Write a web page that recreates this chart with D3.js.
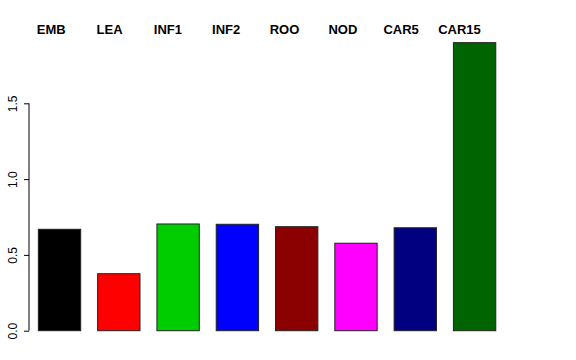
<!DOCTYPE html>
<html>
<head>
<meta charset="utf-8">
<script src="https://cdn.jsdelivr.net/npm/d3@7"></script>
<style>
  body { margin: 0; background: white; }
  svg { display: block; }
</style>
</head>
<body>
<svg id="chart" width="576" height="360"></svg>
<script>
// data
const groups = ["EMB", "LEA", "INF1", "INF2", "ROO", "NOD", "CAR5", "CAR15"];
const values = [0.669, 0.376, 0.704, 0.702, 0.686, 0.577, 0.679, 1.900];
const barColors = ["#000000", "#ff0000", "#00cd00", "#0000ff", "#8b0000", "#ff00ff", "#000080", "#006400"];
const yTicks = [0, 0.5, 1, 1.5];

const svg = d3.select("#chart");

// y scale: 0 at 330.7, 1.5 at 103.3
const y = d3.scaleLinear().domain([0, 1.5]).range([330.7, 103.3]);

// bars like R barplot, space 0.4
const pad = 0.4 / 1.4;
const x = d3.scaleBand().domain(groups).range([21.4, 512.7])
  .paddingInner(pad).paddingOuter(pad);

svg.selectAll("rect.bar")
  .data(groups)
  .enter()
  .append("rect")
  .attr("class", "bar")
  .attr("x", d => x(d))
  .attr("width", x.bandwidth())
  .attr("y", (d, i) => y(values[i]))
  .attr("height", (d, i) => y(0) - y(values[i]))
  .attr("fill", (d, i) => barColors[i])
  .attr("stroke", "#222")
  .attr("stroke-width", 1);

// y axis, labels rotated
const yAxis = d3.axisLeft(y)
  .tickValues(yTicks)
  .tickSize(5)
  .tickFormat(d3.format(".1f"));

const ax = svg.append("g")
  .attr("transform", "translate(29,0)")
  .call(yAxis);
ax.select(".domain").attr("d", `M0,${y(0)}V${y(1.5)}`).attr("stroke", "#000");
ax.selectAll(".tick line").attr("stroke", "#000");
ax.selectAll(".tick text")
  .attr("font-family", "Liberation Sans, Arial, sans-serif")
  .attr("font-size", "12px")
  .attr("fill", "#000")
  .attr("text-anchor", "middle")
  .attr("dy", null)
  .attr("x", null)
  .attr("transform", "translate(-12,0) rotate(-90)");

// group labels along the top
const lx = d3.scalePoint().domain(groups).range([51.2, 459.5]);
svg.selectAll("text.grp")
  .data(groups)
  .enter()
  .append("text")
  .attr("class", "grp")
  .attr("x", d => lx(d))
  .attr("y", 33.5)
  .attr("text-anchor", "middle")
  .attr("font-family", "Liberation Sans, Arial, sans-serif")
  .attr("font-weight", "bold")
  .attr("font-size", "13px")
  .text(d => d);
</script>
</body>
</html>
